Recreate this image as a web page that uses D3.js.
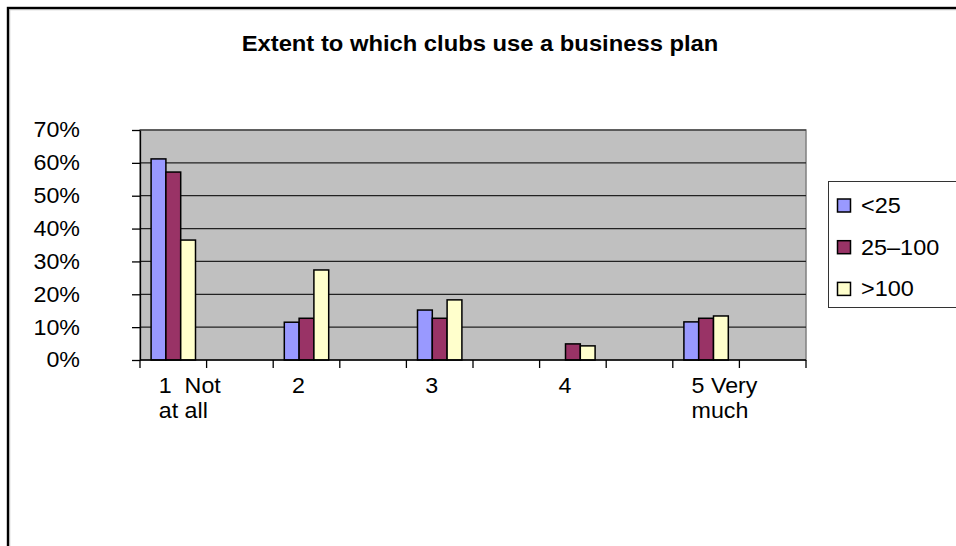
<!DOCTYPE html>
<html>
<head>
<meta charset="utf-8">
<script src="https://cdn.jsdelivr.net/npm/d3@7"></script>
<style>
  html, body { margin: 0; padding: 0; background: #fff; }
  svg { display: block; font-family: "Liberation Sans", Arial, sans-serif; }
</style>
</head>
<body>
<svg id="chart" width="956" height="546"></svg>
<script>
// Response categories (blank slots sit between the labelled answers)
const categories = ["1  Not|at all", "", "2", "", "3", "", "4", "", "5 Very|much", ""];
// Club size groups
const seriesNames = ["<25", "25–100", ">100"];
const seriesColors = ["#9999FF", "#993366", "#FFFFCC"];
// Share of clubs per answer, one array per size group (fractions)
const under25 = [0.612, 0, 0.115, 0, 0.152, 0, 0, 0, 0.116, 0];
const from25to100 = [0.572, 0, 0.127, 0, 0.127, 0, 0.049, 0, 0.127, 0];
const over100 = [0.365, 0, 0.274, 0, 0.183, 0, 0.043, 0, 0.134, 0];
const yTicks = [0, 0.1, 0.2, 0.3, 0.4, 0.5, 0.6, 0.7];

const seriesValues = [under25, from25to100, over100];

const svg = d3.select("#chart");
const plot = { left: 140, top: 130, right: 806, bottom: 360 };

// Slightly widen glyphs of a text selection (keeps the anchor position)
function widen(sel, k) {
  sel.each(function () {
    const w = this.getComputedTextLength();
    if (w > 0) {
      d3.select(this).attr("textLength", w * k).attr("lengthAdjust", "spacingAndGlyphs");
    }
  });
}

// Outer frame
svg.append("rect").attr("x", 8).attr("y", 8).attr("width", 1100).attr("height", 700)
  .attr("fill", "none").attr("stroke", "#000").attr("stroke-width", 2.4);
svg.append("path").attr("d", "M9.7,1000V9.7H1000")
  .attr("fill", "none").attr("stroke", "#b0b0b0").attr("stroke-width", 1);

// Title
svg.append("text").attr("x", 480).attr("y", 51).attr("text-anchor", "middle")
  .attr("font-size", 22).attr("font-weight", "bold").attr("fill", "#000")
  .text("Extent to which clubs use a business plan")
  .call(widen, 1.08);

const x = d3.scaleBand().domain(d3.range(categories.length))
  .range([plot.left, plot.right]).paddingInner(0).paddingOuter(0);
const y = d3.scaleLinear().domain([0, 0.7]).range([plot.bottom, plot.top]);

// Three bars occupy 3 of 4.5 units of each category (gap width 150%)
const groupW = x.bandwidth() * 3 / 4.5;
const xs = d3.scaleBand().domain(d3.range(seriesNames.length)).range([0, groupW]);

// Plot background
svg.append("rect").attr("x", plot.left).attr("y", plot.top)
  .attr("width", plot.right - plot.left).attr("height", plot.bottom - plot.top)
  .attr("fill", "#C0C0C0").attr("stroke", "#808080").attr("stroke-width", 1.5);

// Gridlines
svg.append("g").selectAll("line").data(yTicks.slice(1)).join("line")
  .attr("x1", plot.left).attr("x2", plot.right)
  .attr("y1", d => y(d)).attr("y2", d => y(d))
  .attr("stroke", "#222").attr("stroke-width", 1.2);

// Bars
const groups = svg.append("g").selectAll("g").data(seriesValues).join("g")
  .attr("fill", (d, i) => seriesColors[i]);
groups.each(function (vals, si) {
  d3.select(this).selectAll("rect")
    .data(vals.map((v, ci) => ({ v, ci })).filter(d => d.v > 0))
    .join("rect")
    .attr("x", d => x(d.ci) + (x.bandwidth() - groupW) / 2 + xs(si))
    .attr("width", xs.bandwidth())
    .attr("y", d => y(d.v))
    .attr("height", d => y(0) - y(d.v))
    .attr("stroke", "#000").attr("stroke-width", 1.5);
});

// Y axis
const yAxis = svg.append("g").attr("transform", `translate(${plot.left},0)`)
  .call(d3.axisLeft(y).tickValues(yTicks).tickFormat(d3.format(".0%"))
    .tickSize(8).tickSizeOuter(0).tickPadding(52));
yAxis.select(".domain").attr("stroke", "#000").attr("stroke-width", 1.3);
yAxis.selectAll(".tick line").attr("stroke", "#000").attr("stroke-width", 1.3);
yAxis.selectAll("text").attr("font-size", 21.5).attr("fill", "#000")
  .attr("font-family", "Liberation Sans, Arial, sans-serif")
  .call(widen, 1.08);

// X axis: ticks at every category boundary
const xAxis = svg.append("g").attr("transform", `translate(0,${plot.bottom})`);
xAxis.append("line").attr("x1", plot.left).attr("x2", plot.right)
  .attr("stroke", "#000").attr("stroke-width", 1.3);
const bounds = d3.range(categories.length + 1).map(i => i < categories.length ? x(i) : x(i - 1) + x.step());
xAxis.selectAll("line.tk").data(bounds).join("line").attr("class", "tk")
  .attr("x1", d => d).attr("x2", d => d).attr("y1", 0).attr("y2", 8)
  .attr("stroke", "#000").attr("stroke-width", 1.3);

xAxis.selectAll("text").data(categories.map((c, i) => ({ c, i })).filter(d => d.c))
  .join("text")
  .attr("y", 33)
  .attr("font-size", 21.5).attr("fill", "#000")
  .each(function (d) {
    const lines = d.c.split("|");
    d3.select(this).selectAll("tspan").data(lines).join("tspan")
      .attr("x", x(d.i) + x.bandwidth() / 2 - 14.5)
      .attr("dy", (l, k) => k === 0 ? 0 : 25)
      .attr("xml:space", "preserve")
      .text(l => l)
      .each(function () {
        const w = this.getComputedTextLength();
        d3.select(this).attr("textLength", w * 1.08).attr("lengthAdjust", "spacingAndGlyphs");
      });
  });

// Legend
const legend = svg.append("g");
legend.append("rect").attr("x", 828.5).attr("y", 181.5).attr("width", 200).attr("height", 126)
  .attr("fill", "#fff").attr("stroke", "#333").attr("stroke-width", 1);
seriesNames.forEach((name, i) => {
  const cy = 205.5 + i * 41.7;
  legend.append("rect").attr("x", 837.5).attr("y", cy - 6.5).attr("width", 13).attr("height", 13)
    .attr("fill", seriesColors[i]).attr("stroke", "#000").attr("stroke-width", 1.5);
  legend.append("text").attr("x", 861).attr("y", cy + 7.5)
    .attr("font-size", 21.5).attr("fill", "#000").text(name)
    .call(widen, 1.09);
});
</script>
</body>
</html>
